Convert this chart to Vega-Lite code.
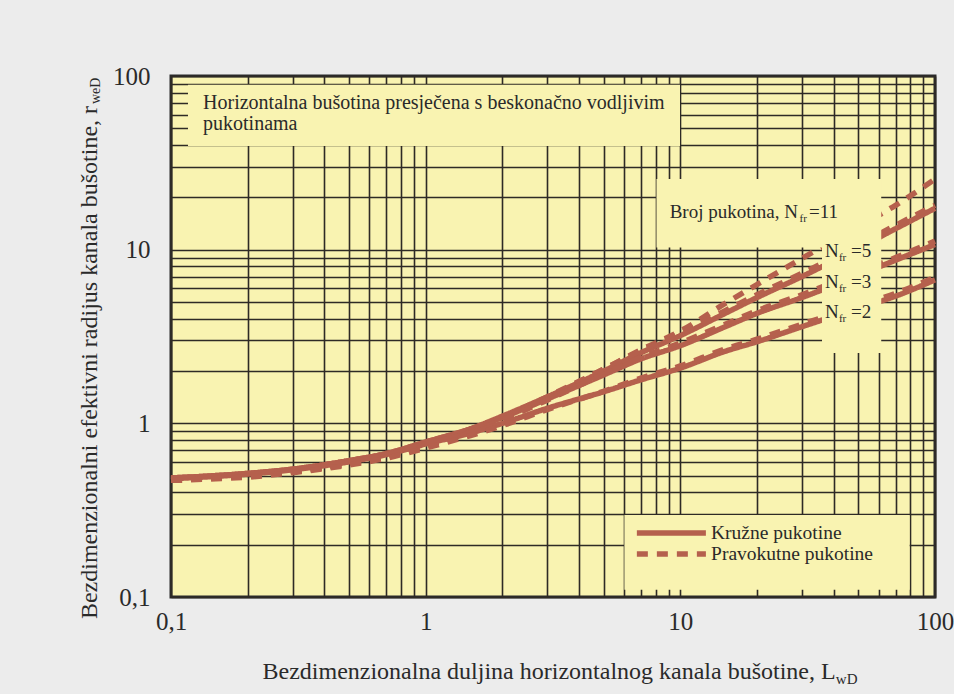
{
  "$schema": "https://vega.github.io/schema/vega-lite/v6.json",
  "width": 764,
  "height": 521,
  "autosize": {"type": "none"},
  "padding": {"left": 171, "top": 76, "right": 19, "bottom": 97},
  "background": "#ececec",
  "config": {
    "view": {"fill": "#f9f3b1", "stroke": "#2b2b2b", "strokeWidth": 3},
    "text": {"font": "Liberation Serif", "color": "#2a2a2a"}
  },
  "datasets": {
    "krivulje": [
      {"s": "A", "oblik": "Pravokutne pukotine", "L": 0.1, "r": 0.47},
      {"s": "A", "oblik": "Pravokutne pukotine", "L": 0.15, "r": 0.485},
      {"s": "A", "oblik": "Pravokutne pukotine", "L": 0.2, "r": 0.5},
      {"s": "A", "oblik": "Pravokutne pukotine", "L": 0.3, "r": 0.53},
      {"s": "A", "oblik": "Pravokutne pukotine", "L": 0.5, "r": 0.59},
      {"s": "A", "oblik": "Pravokutne pukotine", "L": 0.7, "r": 0.65},
      {"s": "A", "oblik": "Pravokutne pukotine", "L": 1, "r": 0.75},
      {"s": "A", "oblik": "Pravokutne pukotine", "L": 1.5, "r": 0.91},
      {"s": "A", "oblik": "Pravokutne pukotine", "L": 2, "r": 1.08},
      {"s": "A", "oblik": "Pravokutne pukotine", "L": 3, "r": 1.4},
      {"s": "A", "oblik": "Pravokutne pukotine", "L": 5, "r": 2.05},
      {"s": "A", "oblik": "Pravokutne pukotine", "L": 7, "r": 2.65},
      {"s": "A", "oblik": "Pravokutne pukotine", "L": 10, "r": 3.4},
      {"s": "A", "oblik": "Pravokutne pukotine", "L": 15, "r": 4.9},
      {"s": "A", "oblik": "Pravokutne pukotine", "L": 20, "r": 6.3},
      {"s": "A", "oblik": "Pravokutne pukotine", "L": 30, "r": 8.9},
      {"s": "A", "oblik": "Pravokutne pukotine", "L": 50, "r": 13.6},
      {"s": "A", "oblik": "Pravokutne pukotine", "L": 70, "r": 18.0},
      {"s": "A", "oblik": "Pravokutne pukotine", "L": 100, "r": 25.5},

      {"s": "B", "oblik": "Kružne pukotine", "L": 0.1, "r": 0.485},
      {"s": "B", "oblik": "Kružne pukotine", "L": 0.15, "r": 0.5},
      {"s": "B", "oblik": "Kružne pukotine", "L": 0.2, "r": 0.515},
      {"s": "B", "oblik": "Kružne pukotine", "L": 0.3, "r": 0.545},
      {"s": "B", "oblik": "Kružne pukotine", "L": 0.5, "r": 0.61},
      {"s": "B", "oblik": "Kružne pukotine", "L": 0.7, "r": 0.67},
      {"s": "B", "oblik": "Kružne pukotine", "L": 1, "r": 0.78},
      {"s": "B", "oblik": "Kružne pukotine", "L": 1.5, "r": 0.93},
      {"s": "B", "oblik": "Kružne pukotine", "L": 2, "r": 1.1},
      {"s": "B", "oblik": "Kružne pukotine", "L": 3, "r": 1.42},
      {"s": "B", "oblik": "Kružne pukotine", "L": 5, "r": 2.0},
      {"s": "B", "oblik": "Kružne pukotine", "L": 7, "r": 2.55},
      {"s": "B", "oblik": "Kružne pukotine", "L": 10, "r": 3.2},
      {"s": "B", "oblik": "Kružne pukotine", "L": 15, "r": 4.3},
      {"s": "B", "oblik": "Kružne pukotine", "L": 20, "r": 5.3},
      {"s": "B", "oblik": "Kružne pukotine", "L": 30, "r": 7.0},
      {"s": "B", "oblik": "Kružne pukotine", "L": 50, "r": 10.2},
      {"s": "B", "oblik": "Kružne pukotine", "L": 70, "r": 13.2},
      {"s": "B", "oblik": "Kružne pukotine", "L": 100, "r": 17.3},

      {"s": "B2", "oblik": "Pravokutne pukotine", "L": 0.1, "r": 0.47},
      {"s": "B2", "oblik": "Pravokutne pukotine", "L": 0.15, "r": 0.485},
      {"s": "B2", "oblik": "Pravokutne pukotine", "L": 0.2, "r": 0.495},
      {"s": "B2", "oblik": "Pravokutne pukotine", "L": 0.3, "r": 0.525},
      {"s": "B2", "oblik": "Pravokutne pukotine", "L": 0.5, "r": 0.585},
      {"s": "B2", "oblik": "Pravokutne pukotine", "L": 0.7, "r": 0.645},
      {"s": "B2", "oblik": "Pravokutne pukotine", "L": 1, "r": 0.75},
      {"s": "B2", "oblik": "Pravokutne pukotine", "L": 1.5, "r": 0.9},
      {"s": "B2", "oblik": "Pravokutne pukotine", "L": 2, "r": 1.07},
      {"s": "B2", "oblik": "Pravokutne pukotine", "L": 3, "r": 1.42},
      {"s": "B2", "oblik": "Pravokutne pukotine", "L": 5, "r": 2.05},
      {"s": "B2", "oblik": "Pravokutne pukotine", "L": 7, "r": 2.62},
      {"s": "B2", "oblik": "Pravokutne pukotine", "L": 10, "r": 3.3},
      {"s": "B2", "oblik": "Pravokutne pukotine", "L": 15, "r": 4.45},
      {"s": "B2", "oblik": "Pravokutne pukotine", "L": 20, "r": 5.5},
      {"s": "B2", "oblik": "Pravokutne pukotine", "L": 30, "r": 7.3},
      {"s": "B2", "oblik": "Pravokutne pukotine", "L": 50, "r": 10.6},
      {"s": "B2", "oblik": "Pravokutne pukotine", "L": 70, "r": 13.8},
      {"s": "B2", "oblik": "Pravokutne pukotine", "L": 100, "r": 18.0},

      {"s": "C", "oblik": "Kružne pukotine", "L": 0.1, "r": 0.485},
      {"s": "C", "oblik": "Kružne pukotine", "L": 0.15, "r": 0.5},
      {"s": "C", "oblik": "Kružne pukotine", "L": 0.2, "r": 0.515},
      {"s": "C", "oblik": "Kružne pukotine", "L": 0.3, "r": 0.545},
      {"s": "C", "oblik": "Kružne pukotine", "L": 0.5, "r": 0.61},
      {"s": "C", "oblik": "Kružne pukotine", "L": 0.7, "r": 0.67},
      {"s": "C", "oblik": "Kružne pukotine", "L": 1, "r": 0.78},
      {"s": "C", "oblik": "Kružne pukotine", "L": 1.5, "r": 0.93},
      {"s": "C", "oblik": "Kružne pukotine", "L": 2, "r": 1.08},
      {"s": "C", "oblik": "Kružne pukotine", "L": 3, "r": 1.38},
      {"s": "C", "oblik": "Kružne pukotine", "L": 5, "r": 1.9},
      {"s": "C", "oblik": "Kružne pukotine", "L": 7, "r": 2.35},
      {"s": "C", "oblik": "Kružne pukotine", "L": 10, "r": 2.8},
      {"s": "C", "oblik": "Kružne pukotine", "L": 15, "r": 3.6},
      {"s": "C", "oblik": "Kružne pukotine", "L": 20, "r": 4.3},
      {"s": "C", "oblik": "Kružne pukotine", "L": 30, "r": 5.3},
      {"s": "C", "oblik": "Kružne pukotine", "L": 50, "r": 7.1},
      {"s": "C", "oblik": "Kružne pukotine", "L": 70, "r": 8.7},
      {"s": "C", "oblik": "Kružne pukotine", "L": 100, "r": 10.7},

      {"s": "C2", "oblik": "Pravokutne pukotine", "L": 0.1, "r": 0.47},
      {"s": "C2", "oblik": "Pravokutne pukotine", "L": 0.15, "r": 0.485},
      {"s": "C2", "oblik": "Pravokutne pukotine", "L": 0.2, "r": 0.495},
      {"s": "C2", "oblik": "Pravokutne pukotine", "L": 0.3, "r": 0.525},
      {"s": "C2", "oblik": "Pravokutne pukotine", "L": 0.5, "r": 0.585},
      {"s": "C2", "oblik": "Pravokutne pukotine", "L": 0.7, "r": 0.645},
      {"s": "C2", "oblik": "Pravokutne pukotine", "L": 1, "r": 0.74},
      {"s": "C2", "oblik": "Pravokutne pukotine", "L": 1.5, "r": 0.89},
      {"s": "C2", "oblik": "Pravokutne pukotine", "L": 2, "r": 1.05},
      {"s": "C2", "oblik": "Pravokutne pukotine", "L": 3, "r": 1.36},
      {"s": "C2", "oblik": "Pravokutne pukotine", "L": 5, "r": 1.92},
      {"s": "C2", "oblik": "Pravokutne pukotine", "L": 7, "r": 2.4},
      {"s": "C2", "oblik": "Pravokutne pukotine", "L": 10, "r": 2.9},
      {"s": "C2", "oblik": "Pravokutne pukotine", "L": 15, "r": 3.72},
      {"s": "C2", "oblik": "Pravokutne pukotine", "L": 20, "r": 4.45},
      {"s": "C2", "oblik": "Pravokutne pukotine", "L": 30, "r": 5.5},
      {"s": "C2", "oblik": "Pravokutne pukotine", "L": 50, "r": 7.4},
      {"s": "C2", "oblik": "Pravokutne pukotine", "L": 70, "r": 9.0},
      {"s": "C2", "oblik": "Pravokutne pukotine", "L": 100, "r": 11.2},

      {"s": "D", "oblik": "Kružne pukotine", "L": 0.1, "r": 0.48},
      {"s": "D", "oblik": "Kružne pukotine", "L": 0.15, "r": 0.495},
      {"s": "D", "oblik": "Kružne pukotine", "L": 0.2, "r": 0.51},
      {"s": "D", "oblik": "Kružne pukotine", "L": 0.3, "r": 0.54},
      {"s": "D", "oblik": "Kružne pukotine", "L": 0.5, "r": 0.6},
      {"s": "D", "oblik": "Kružne pukotine", "L": 0.7, "r": 0.66},
      {"s": "D", "oblik": "Kružne pukotine", "L": 1, "r": 0.76},
      {"s": "D", "oblik": "Kružne pukotine", "L": 1.5, "r": 0.88},
      {"s": "D", "oblik": "Kružne pukotine", "L": 2, "r": 1.0},
      {"s": "D", "oblik": "Kružne pukotine", "L": 3, "r": 1.22},
      {"s": "D", "oblik": "Kružne pukotine", "L": 5, "r": 1.52},
      {"s": "D", "oblik": "Kružne pukotine", "L": 7, "r": 1.78},
      {"s": "D", "oblik": "Kružne pukotine", "L": 10, "r": 2.08},
      {"s": "D", "oblik": "Kružne pukotine", "L": 15, "r": 2.6},
      {"s": "D", "oblik": "Kružne pukotine", "L": 20, "r": 2.95},
      {"s": "D", "oblik": "Kružne pukotine", "L": 30, "r": 3.6},
      {"s": "D", "oblik": "Kružne pukotine", "L": 50, "r": 4.6},
      {"s": "D", "oblik": "Kružne pukotine", "L": 70, "r": 5.4},
      {"s": "D", "oblik": "Kružne pukotine", "L": 100, "r": 6.7},

      {"s": "D2", "oblik": "Pravokutne pukotine", "L": 0.1, "r": 0.47},
      {"s": "D2", "oblik": "Pravokutne pukotine", "L": 0.15, "r": 0.48},
      {"s": "D2", "oblik": "Pravokutne pukotine", "L": 0.2, "r": 0.49},
      {"s": "D2", "oblik": "Pravokutne pukotine", "L": 0.3, "r": 0.52},
      {"s": "D2", "oblik": "Pravokutne pukotine", "L": 0.5, "r": 0.575},
      {"s": "D2", "oblik": "Pravokutne pukotine", "L": 0.7, "r": 0.63},
      {"s": "D2", "oblik": "Pravokutne pukotine", "L": 1, "r": 0.72},
      {"s": "D2", "oblik": "Pravokutne pukotine", "L": 1.5, "r": 0.85},
      {"s": "D2", "oblik": "Pravokutne pukotine", "L": 2, "r": 0.97},
      {"s": "D2", "oblik": "Pravokutne pukotine", "L": 3, "r": 1.2},
      {"s": "D2", "oblik": "Pravokutne pukotine", "L": 5, "r": 1.53},
      {"s": "D2", "oblik": "Pravokutne pukotine", "L": 7, "r": 1.82},
      {"s": "D2", "oblik": "Pravokutne pukotine", "L": 10, "r": 2.14},
      {"s": "D2", "oblik": "Pravokutne pukotine", "L": 15, "r": 2.68},
      {"s": "D2", "oblik": "Pravokutne pukotine", "L": 20, "r": 3.05},
      {"s": "D2", "oblik": "Pravokutne pukotine", "L": 30, "r": 3.72},
      {"s": "D2", "oblik": "Pravokutne pukotine", "L": 50, "r": 4.75},
      {"s": "D2", "oblik": "Pravokutne pukotine", "L": 70, "r": 5.6},
      {"s": "D2", "oblik": "Pravokutne pukotine", "L": 100, "r": 6.95}
    ],
    "okviri": [
      {"L": 0.1166, "L2": 9.97, "r": 89, "r2": 39.5},
      {"L": 8.06, "L2": 61.5, "r": 25.5, "r2": 10.3},
      {"L": 36, "L2": 61.5, "r": 10.4, "r2": 2.54},
      {"L": 6.03, "L2": 79.5, "r": 0.297, "r2": 0.11}
    ],
    "legenda": [
      {"oblik": "Kružne pukotine", "L": 6.75, "L2": 12.6, "r": 0.234},
      {"oblik": "Pravokutne pukotine", "L": 6.75, "L2": 12.6, "r": 0.177}
    ],
    "tekstovi": [
      {"g": "naslov", "t": "Horizontalna bušotina presječena s beskonačno vodljivim", "L": 0.1336, "r": 70},
      {"g": "naslov", "t": "pukotinama", "L": 0.1336, "r": 52.9},
      {"g": "legenda", "t": "Kružne pukotine", "L": 13.2, "r": 0.234},
      {"g": "legenda", "t": "Pravokutne pukotine", "L": 13.2, "r": 0.177},
      {"g": "broj", "t": "Broj pukotina, N", "L": 28.95, "r": 16.5},
      {"g": "oznaka", "t": "=11", "L": 32.0, "r": 16.5},
      {"g": "oznaka", "t": "N", "L": 36.97, "r": 9.83},
      {"g": "oznaka", "t": "=5", "L": 46.8, "r": 9.83},
      {"g": "oznaka", "t": "N", "L": 36.97, "r": 6.52},
      {"g": "oznaka", "t": "=3", "L": 46.8, "r": 6.52},
      {"g": "oznaka", "t": "N", "L": 36.97, "r": 4.38},
      {"g": "oznaka", "t": "=2", "L": 46.8, "r": 4.38},
      {"g": "indeks", "t": "fr", "L": 29.4, "r": 15.0},
      {"g": "indeks", "t": "fr", "L": 41.95, "r": 8.96},
      {"g": "indeks", "t": "fr", "L": 41.95, "r": 5.94},
      {"g": "indeks", "t": "fr", "L": 41.95, "r": 3.99},
      {"g": "osx", "t": "wD", "L": 40.8, "r": 0.0316},
      {"g": "osy", "t": "weD", "L": 0.0526, "r": 69}
    ]
  },
  "layer": [
    {
      "data": {"name": "krivulje"},
      "mark": {"type": "line", "strokeWidth": 5.5, "interpolate": "monotone", "color": "#b5604d"},
      "encoding": {
        "x": {
          "field": "L", "type": "quantitative",
          "scale": {"type": "log", "domain": [0.1, 100], "nice": false},
          "axis": {
            "title": "Bezdimenzionalna duljina horizontalnog kanala bušotine, L",
            "values": [0.1, 0.2, 0.3, 0.4, 0.5, 0.6, 0.7, 0.8, 0.9, 1, 2, 3, 4, 5, 6, 7, 8, 9, 10, 20, 30, 40, 50, 60, 70, 80, 90, 100],
            "labelExpr": "datum.value == 0.1 ? '0,1' : datum.value == 1 ? '1' : datum.value == 10 ? '10' : datum.value == 100 ? '100' : ''",
            "ticks": false, "domain": false, "grid": true,
            "gridColor": "#2e2a25", "gridWidth": 1.6, "gridOpacity": 1,
            "labelFont": "Liberation Serif", "labelFontSize": 25, "labelColor": "#2a2a2a",
            "labelPadding": 12, "labelOverlap": false, "labelFlush": false, "labelBound": false,
            "titleFont": "Liberation Serif", "titleFontSize": 24, "titleFontWeight": "normal", "titleColor": "#2a2a2a",
            "titleAlign": "left", "titleX": 91, "titleY": 81, "titleBaseline": "alphabetic"
          }
        },
        "y": {
          "field": "r", "type": "quantitative",
          "scale": {"type": "log", "domain": [0.1, 100], "nice": false},
          "axis": {
            "title": "Bezdimenzionalni efektivni radijus kanala bušotine, r",
            "values": [0.1, 0.2, 0.3, 0.4, 0.5, 0.6, 0.7, 0.8, 0.9, 1, 2, 3, 4, 5, 6, 7, 8, 9, 10, 20, 30, 40, 50, 60, 70, 80, 90, 100],
            "labelExpr": "datum.value == 0.1 ? '0,1' : datum.value == 1 ? '1' : datum.value == 10 ? '10' : datum.value == 100 ? '100' : ''",
            "ticks": false, "domain": false, "grid": true,
            "gridColor": "#2e2a25", "gridWidth": 1.6, "gridOpacity": 1,
            "labelFont": "Liberation Serif", "labelFontSize": 25, "labelColor": "#2a2a2a",
            "labelPadding": 21, "labelOverlap": false, "labelFlush": false, "labelBound": false,
            "titleFont": "Liberation Serif", "titleFontSize": 24, "titleFontWeight": "normal", "titleColor": "#2a2a2a",
            "titleAngle": 270, "titleAlign": "center", "titleX": -75, "titleY": 286, "titleBaseline": "alphabetic"
          }
        },
        "detail": {"field": "s", "type": "nominal"},
        "strokeDash": {
          "field": "oblik", "type": "nominal",
          "scale": {"domain": ["Kružne pukotine", "Pravokutne pukotine"], "range": [[1, 0], [11, 9]]},
          "legend": null
        }
      }
    },
    {
      "data": {"name": "okviri"},
      "mark": {"type": "rect", "color": "#f9f3b1"},
      "encoding": {
        "x": {"field": "L", "type": "quantitative"},
        "x2": {"field": "L2"},
        "y": {"field": "r", "type": "quantitative"},
        "y2": {"field": "r2"}
      }
    },
    {
      "data": {"name": "legenda"},
      "mark": {"type": "rule", "strokeWidth": 5.5, "color": "#b5604d"},
      "encoding": {
        "x": {"field": "L", "type": "quantitative"},
        "x2": {"field": "L2"},
        "y": {"field": "r", "type": "quantitative"},
        "strokeDash": {"field": "oblik", "type": "nominal", "legend": null}
      }
    },
    {
      "data": {"name": "tekstovi"},
      "transform": [{"filter": "datum.g == 'naslov'"}],
      "mark": {"type": "text", "align": "left", "baseline": "middle", "fontSize": 20},
      "encoding": {
        "x": {"field": "L", "type": "quantitative"},
        "y": {"field": "r", "type": "quantitative"},
        "text": {"field": "t"}
      }
    },
    {
      "data": {"name": "tekstovi"},
      "transform": [{"filter": "datum.g == 'legenda'"}],
      "mark": {"type": "text", "align": "left", "baseline": "middle", "fontSize": 19.5},
      "encoding": {
        "x": {"field": "L", "type": "quantitative"},
        "y": {"field": "r", "type": "quantitative"},
        "text": {"field": "t"}
      }
    },
    {
      "data": {"name": "tekstovi"},
      "transform": [{"filter": "datum.g == 'broj'"}],
      "mark": {"type": "text", "align": "right", "baseline": "middle", "fontSize": 19},
      "encoding": {
        "x": {"field": "L", "type": "quantitative"},
        "y": {"field": "r", "type": "quantitative"},
        "text": {"field": "t"}
      }
    },
    {
      "data": {"name": "tekstovi"},
      "transform": [{"filter": "datum.g == 'oznaka'"}],
      "mark": {"type": "text", "align": "left", "baseline": "middle", "fontSize": 19},
      "encoding": {
        "x": {"field": "L", "type": "quantitative"},
        "y": {"field": "r", "type": "quantitative"},
        "text": {"field": "t"}
      }
    },
    {
      "data": {"name": "tekstovi"},
      "transform": [{"filter": "datum.g == 'indeks'"}],
      "mark": {"type": "text", "align": "left", "baseline": "middle", "fontSize": 11},
      "encoding": {
        "x": {"field": "L", "type": "quantitative"},
        "y": {"field": "r", "type": "quantitative"},
        "text": {"field": "t"}
      }
    },
    {
      "data": {"name": "tekstovi"},
      "transform": [{"filter": "datum.g == 'osx'"}],
      "mark": {"type": "text", "align": "left", "baseline": "alphabetic", "fontSize": 15},
      "encoding": {
        "x": {"field": "L", "type": "quantitative"},
        "y": {"field": "r", "type": "quantitative"},
        "text": {"field": "t"}
      }
    },
    {
      "data": {"name": "tekstovi"},
      "transform": [{"filter": "datum.g == 'osy'"}],
      "mark": {"type": "text", "align": "left", "baseline": "alphabetic", "fontSize": 14, "angle": 270},
      "encoding": {
        "x": {"field": "L", "type": "quantitative"},
        "y": {"field": "r", "type": "quantitative"},
        "text": {"field": "t"}
      }
    }
  ]
}
